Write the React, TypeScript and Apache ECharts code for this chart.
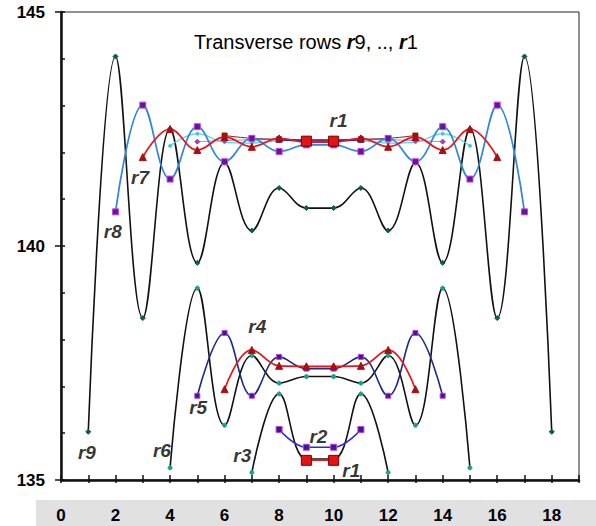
import React, { useEffect, useRef } from "react";
import * as echarts from "echarts";

// Upper group (rows r9..r1), values start at the given x
const topR9Start = 1;
const topR9 = [136.03, 144.05, 138.46, 142.5, 139.64, 141.78, 140.33, 141.24, 140.81, 140.81, 141.24, 140.33, 141.78, 139.64, 142.5, 138.46, 144.05, 136.03];
const topR8Start = 2;
const topR8 = [140.73, 143.01, 141.43, 142.55, 141.8, 142.3, 142.02, 142.16, 142.16, 142.02, 142.3, 141.8, 142.55, 141.43, 143.01, 140.73];
const topR7Start = 3;
const topR7 = [141.9, 142.5, 142.05, 142.33, 142.12, 142.3, 142.22, 142.22, 142.3, 142.12, 142.33, 142.05, 142.5, 141.9];
const topR6Start = 4;
const topR6 = [142.14, 142.4, 142.22, 142.2, 142.25, 142.26, 142.26, 142.25, 142.2, 142.22, 142.4, 142.14];
const topR5Start = 5;
const topR5 = [142.23, 142.25, 142.27, 142.27, 142.26, 142.26, 142.27, 142.27, 142.25, 142.23];
const topR4Start = 6;
const topR4 = [142.36, 142.3, 142.28, 142.27, 142.27, 142.28, 142.3, 142.36];
const topR3Start = 7;
const topR3 = [142.3, 142.27, 142.25, 142.25, 142.27, 142.3];
const topR2Start = 8;
const topR2 = [142.27, 142.25, 142.25, 142.27];
const topR1Start = 9;
const topR1 = [142.24, 142.24];

// Lower group (rows r6..r1)
const botR6Start = 4;
const botR6 = [135.26, 139.1, 136.17, 137.66, 137.07, 137.21, 137.21, 137.07, 137.66, 136.17, 139.1, 135.26];
const botR5Start = 5;
const botR5 = [136.8, 138.14, 136.8, 137.63, 137.38, 137.38, 137.63, 136.8, 138.14, 136.8];
const botR4Start = 6;
const botR4 = [136.94, 137.78, 137.44, 137.43, 137.43, 137.44, 137.78, 136.94];
const botR3Start = 7;
const botR3 = [135.16, 136.84, 135.45, 135.45, 136.84, 135.16];
const botR2Start = 8;
const botR2 = [136.08, 135.7, 135.7, 136.08];
const botR1Start = 9;
const botR1 = [135.42, 135.42];

// Row labels placed in data coordinates
const rowLabels: [number, number, string][] = [
  [0.95, 135.58, "r9"],
  [3.7, 135.64, "r6"],
  [6.65, 135.53, "r3"],
  [5.03, 136.54, "r5"],
  [7.2, 138.27, "r4"],
  [9.44, 135.92, "r2"],
  [10.65, 135.21, "r1"],
  [2.9, 141.47, "r7"],
  [1.9, 140.3, "r8"],
  [10.18, 142.69, "r1"],
];

const xLabelValues = [0, 2, 4, 6, 8, 10, 12, 14, 16, 18];
const yLabelValues = [135, 140, 145];

const toPairs = (start: number, vals: number[]) => vals.map((v, i) => [start + i, v]);

const SMOOTH = 0.4;

function lineSeries(
  data: number[][],
  lineColor: string,
  lineWidth: number,
  symbol: string,
  symbolSize: number,
  markerColor: string,
  markerBorder: string,
  z = 2
) {
  return {
    type: "line",
    data,
    smooth: SMOOTH,
    symbol,
    symbolSize,
    showSymbol: true,
    z,
    lineStyle: { color: lineColor, width: lineWidth },
    itemStyle: { color: markerColor, borderColor: markerBorder, borderWidth: 1 },
    emphasis: { disabled: true },
  };
}

export default function App() {
  const ref = useRef<HTMLDivElement>(null);
  useEffect(() => {
    document.body.style.margin = "0";
    if (!ref.current) return;
    const chart = echarts.init(ref.current, undefined, { renderer: "svg" });
    const font = "'Liberation Sans', Arial, sans-serif";
    const option: any = {
      animation: false,
      grid: {
        left: 61,
        top: 12,
        right: 17,
        bottom: 46,
        show: true,
        borderColor: "#222",
        borderWidth: 1,
        backgroundColor: "transparent",
      },
      graphic: [
        {
          type: "rect",
          z: -10,
          shape: { x: 36, y: 500, width: 560, height: 26 },
          style: { fill: "#e1e1e1" },
        },
        {
          type: "text",
          x: 306,
          y: 42,
          style: {
            text: "{n|Transverse rows }{b|r}{n|9, .., }{b|r}{n|1}",
            textAlign: "center",
            textVerticalAlign: "middle",
            rich: {
              n: { fontFamily: font, fontSize: 20, fill: "#000" },
              b: { fontFamily: font, fontSize: 20, fontWeight: "bold", fontStyle: "italic", fill: "#000" },
            },
          },
        },
      ],
      xAxis: [
        {
          type: "value",
          min: 0,
          max: 19,
          interval: 1,
          axisLine: { show: true, onZero: false, lineStyle: { color: "#111", width: 2.5 } },
          axisTick: { show: true, inside: true, length: 5, lineStyle: { color: "#111", width: 1.5 } },
          splitLine: { show: false },
          axisLabel: {
            margin: 27,
            color: "#000",
            fontFamily: font,
            fontWeight: "bold",
            fontSize: 17,
            formatter: (v: number) => (xLabelValues.includes(v) ? String(v) : ""),
          },
        },
        {
          type: "value",
          min: 0,
          max: 19,
          interval: 1,
          position: "bottom",
          offset: 0,
          axisLine: { show: false },
          axisTick: { show: true, inside: false, length: 3, lineStyle: { color: "#111", width: 1.5 } },
          splitLine: { show: false },
          axisLabel: { show: false },
        },
      ],
      yAxis: [
        {
          type: "value",
          min: 135,
          max: 145,
          interval: 1,
          axisLine: { show: true, onZero: false, lineStyle: { color: "#111", width: 2.5 } },
          axisTick: { show: true, inside: true, length: 4, lineStyle: { color: "#111", width: 1.5 } },
          splitLine: { show: false },
          axisLabel: {
            margin: 16,
            color: "#000",
            fontFamily: font,
            fontWeight: "bold",
            fontSize: 17,
            formatter: (v: number) => (yLabelValues.includes(v) ? String(v) : ""),
          },
        },
        {
          type: "value",
          min: 135,
          max: 145,
          interval: 5,
          position: "left",
          offset: 0,
          axisLine: { show: false },
          axisTick: { show: true, inside: false, length: 6, lineStyle: { color: "#111", width: 1.5 } },
          splitLine: { show: false },
          axisLabel: { show: false },
        },
      ],
      series: [
        // upper group
        lineSeries(toPairs(topR9Start, topR9), "#111", 1.6, "diamond", 5, "#0b5d45", "#0b5d45", 2),
        lineSeries(toPairs(topR6Start, topR6), "#4fd8ea", 1.3, "circle", 3, "#3cc6d8", "#3cc6d8", 3),
        lineSeries(toPairs(topR5Start, topR5), "#c27ccf", 1, "diamond", 5, "#a040a8", "#a040a8", 3),
        lineSeries(toPairs(topR4Start, topR4), "#8b1a1a", 1, "rect", 5, "#8e1212", "#8e1212", 3),
        lineSeries(toPairs(topR3Start, topR3), "#666", 1, "circle", 4, "#444", "#444", 3),
        lineSeries(toPairs(topR2Start, topR2), "#2436a8", 1.4, "rect", 5, "#3a1a90", "#3a1a90", 3),
        lineSeries(toPairs(topR8Start, topR8), "#2e86de", 1.7, "rect", 6, "#5a1a9a", "#d040e0", 4),
        lineSeries(toPairs(topR7Start, topR7), "#e8141c", 1.7, "triangle", 7, "#a51010", "#a51010", 4),
        lineSeries(toPairs(topR1Start, topR1), "#e02020", 1.5, "rect", 10, "#e41414", "#7a0000", 5),
        // lower group
        lineSeries(toPairs(botR6Start, botR6), "#111", 1.6, "circle", 4, "#1aa08a", "#1aa08a", 2),
        lineSeries(toPairs(botR3Start, botR3), "#111", 1.6, "circle", 4, "#1aa08a", "#1aa08a", 2),
        lineSeries(toPairs(botR5Start, botR5), "#1c2c80", 1.6, "rect", 5, "#4a1098", "#c040d0", 3),
        lineSeries(toPairs(botR4Start, botR4), "#e8141c", 1.7, "triangle", 7, "#a51010", "#a51010", 4),
        lineSeries(toPairs(botR2Start, botR2), "#2a2ae0", 1.6, "rect", 6, "#3a1a90", "#c040d0", 4),
        lineSeries(toPairs(botR1Start, botR1), "#e02020", 1.5, "rect", 10, "#e41414", "#7a0000", 5),
        {
          type: "scatter",
          data: rowLabels.map(([x, y, t]) => ({ value: [x, y], name: t })),
          symbol: "circle",
          symbolSize: 2,
          itemStyle: { color: "rgba(0,0,0,0)" },
          z: 10,
          silent: true,
          label: {
            show: true,
            position: "inside",
            formatter: (p: any) => p.name,
            color: "#000",
            textBorderWidth: 0,
            fontFamily: font,
            fontWeight: "bold",
            fontStyle: "italic",
            fontSize: 19,
          },
          labelLayout: { hideOverlap: false },
        },
      ],
    };
    chart.setOption(option);
    return () => chart.dispose();
  }, []);
  return <div ref={ref} style={{ width: 596, height: 526 }} />;
}
